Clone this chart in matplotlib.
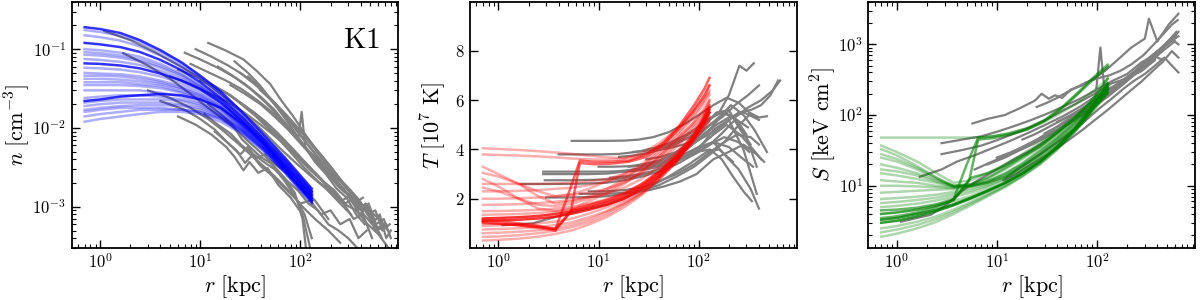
import numpy as np
import matplotlib
matplotlib.use("Agg")
import matplotlib.pyplot as plt
from matplotlib.ticker import LogLocator, FuncFormatter, NullFormatter, FixedLocator, NullLocator

plt.rcParams['mathtext.fontset'] = 'cm'
plt.rcParams['font.family'] = ['DejaVu Serif']

# ---------------- Panel 1: density n [cm^-3] ----------------
n_mod_r = [0.7, 1.0, 1.6, 2.5, 4, 6.5, 10, 16, 26, 42, 70, 130]
n_mod_v = [
    [0.19, 0.18, 0.16, 0.13, 0.097, 0.068, 0.046, 0.029, 0.016, 0.0085, 0.0042, 0.0017],
    [0.175, 0.165, 0.148, 0.122, 0.092, 0.065, 0.044, 0.027, 0.015, 0.0080, 0.0040, 0.0016],
    [0.15, 0.142, 0.128, 0.108, 0.083, 0.060, 0.041, 0.026, 0.0145, 0.0078, 0.0039, 0.0016],
    [0.12, 0.115, 0.106, 0.092, 0.073, 0.054, 0.038, 0.024, 0.0138, 0.0075, 0.0038, 0.00155],
    [0.10, 0.097, 0.090, 0.080, 0.065, 0.049, 0.035, 0.023, 0.013, 0.0072, 0.0036, 0.0015],
    [0.092, 0.089, 0.083, 0.074, 0.061, 0.047, 0.034, 0.0225, 0.0128, 0.0071, 0.0035, 0.00148],
    [0.085, 0.083, 0.078, 0.070, 0.058, 0.045, 0.033, 0.022, 0.0127, 0.0070, 0.0035, 0.00145],
    [0.075, 0.073, 0.069, 0.063, 0.053, 0.042, 0.032, 0.0215, 0.0124, 0.0069, 0.0034, 0.00142],
    [0.066, 0.065, 0.062, 0.057, 0.049, 0.040, 0.031, 0.021, 0.0122, 0.0068, 0.0034, 0.0014],
    [0.058, 0.057, 0.055, 0.051, 0.045, 0.037, 0.029, 0.020, 0.0118, 0.0066, 0.0033, 0.00138],
    [0.05, 0.049, 0.048, 0.045, 0.040, 0.034, 0.027, 0.019, 0.0113, 0.0064, 0.0032, 0.00135],
    [0.046, 0.046, 0.045, 0.042, 0.038, 0.032, 0.026, 0.0185, 0.011, 0.0063, 0.0031, 0.00132],
    [0.042, 0.042, 0.041, 0.039, 0.036, 0.031, 0.025, 0.018, 0.0108, 0.0062, 0.0031, 0.0013],
    [0.038, 0.038, 0.038, 0.036, 0.034, 0.029, 0.024, 0.0175, 0.0106, 0.0061, 0.0030, 0.00129],
    [0.035, 0.035, 0.035, 0.034, 0.032, 0.028, 0.023, 0.017, 0.0104, 0.0060, 0.0030, 0.00128],
    [0.030, 0.030, 0.030, 0.030, 0.028, 0.025, 0.021, 0.016, 0.0100, 0.0058, 0.0029, 0.00125],
    [0.022, 0.023, 0.025, 0.026, 0.027, 0.026, 0.023, 0.018, 0.0115, 0.0065, 0.0031, 0.0012],
    [0.024, 0.025, 0.026, 0.026, 0.025, 0.023, 0.020, 0.015, 0.0098, 0.0058, 0.0030, 0.0012],
    [0.021, 0.022, 0.023, 0.023, 0.023, 0.022, 0.019, 0.0145, 0.0096, 0.0057, 0.0029, 0.0012],
    [0.019, 0.020, 0.021, 0.021, 0.021, 0.020, 0.018, 0.014, 0.0094, 0.0056, 0.0029, 0.00118],
    [0.017, 0.018, 0.019, 0.0195, 0.0195, 0.019, 0.017, 0.0135, 0.0092, 0.0055, 0.0028, 0.00116],
    [0.016, 0.017, 0.018, 0.018, 0.018, 0.017, 0.016, 0.013, 0.0090, 0.0054, 0.0028, 0.00115],
    [0.014, 0.015, 0.016, 0.017, 0.017, 0.017, 0.016, 0.013, 0.0088, 0.0053, 0.0027, 0.00112],
    [0.012, 0.013, 0.014, 0.015, 0.016, 0.016, 0.015, 0.012, 0.0085, 0.0052, 0.0027, 0.0011],
]
n_mod_dark = [0, 3, 8, 16]

n_obs_r = [
    [1.1, 2.0, 3.5, 6, 10, 16, 25, 40, 60, 90, 130, 180, 250, 320],
    [1.7, 3, 5, 8, 12, 20, 30, 45, 70, 100, 140, 190],
    [12, 18, 27, 36, 50, 65, 85, 110, 150, 200, 260, 340, 430],
    [7, 10, 15, 22, 32, 45, 65, 90, 120, 160, 210, 270, 340, 420],
    [8, 12, 18, 26, 38, 55, 80, 110, 150, 190, 240, 300, 370, 450, 540],
    [5, 8, 12, 18, 27, 40, 60, 85, 120, 160, 210, 260, 320, 390, 470, 560, 650],
    [6, 9, 13, 18, 22, 27, 31, 38, 47, 60, 80, 105, 125],
    [4, 7, 10, 14, 19, 25, 30, 36, 44, 55, 70, 90, 110, 130],
    [10, 14, 20, 28, 38, 50, 70, 95, 130, 170, 220, 280, 350, 430, 520, 620, 720, 800],
    [15, 20, 28, 40, 55, 75, 95, 103, 112, 130, 170, 220, 290, 370, 460, 560, 680],
    [3, 5, 8, 12, 17, 24, 33, 45, 60, 80, 105, 140, 190, 250],
    [9, 13, 19, 27, 37, 50, 68, 90, 120, 160, 210, 280, 370, 480, 620, 750],
    [20, 28, 40, 55, 75, 100, 135, 180, 240, 320, 420, 540, 680],
    [12, 16, 21, 26, 32, 40, 52, 68, 88, 105, 118],
    [25, 35, 50, 70, 100, 130, 170, 220, 280, 360, 460, 580, 720],
    [6, 9, 14, 20, 27, 36, 48, 65, 85, 110, 150, 200, 270, 360, 470, 600, 760],
    [14, 18, 23, 28, 33, 40, 50, 62, 78, 100, 125, 160, 200, 250, 310, 380, 460],
    [30, 40, 52, 68, 90, 115, 145, 180, 220, 270, 330, 400, 480, 570, 680, 800],
    [18, 25, 34, 45, 60, 80, 105, 135, 170, 215, 270, 340, 420, 520],
    [22, 30, 40, 52, 68, 88, 110, 140, 180, 230, 290, 360, 440],
    [11, 15, 20, 26, 33, 42, 55, 72, 95, 120, 150, 190, 240, 300, 370],
    [40, 55, 75, 100, 130, 165, 210, 260, 320, 390, 470, 560, 660, 780],
]
n_obs_v = [
    [0.17, 0.13, 0.092, 0.063, 0.043, 0.027, 0.017, 0.0098, 0.0058, 0.0036, 0.0024, 0.0017, 0.0011, 0.0008],
    [0.089, 0.062, 0.042, 0.027, 0.018, 0.011, 0.0068, 0.0043, 0.0028, 0.0018, 0.0012, 0.0007],
    [0.12, 0.096, 0.074, 0.054, 0.036, 0.022, 0.014, 0.0085, 0.005, 0.0032, 0.0021, 0.0014, 0.0010],
    [0.09, 0.074, 0.058, 0.044, 0.031, 0.021, 0.013, 0.0082, 0.0052, 0.0036, 0.0022, 0.0017, 0.0011, 0.0013],
    [0.065, 0.051, 0.04, 0.031, 0.022, 0.015, 0.0092, 0.0058, 0.0036, 0.0026, 0.0018, 0.0014, 0.0009, 0.0011, 0.0006],
    [0.045, 0.036, 0.028, 0.022, 0.016, 0.011, 0.0073, 0.0048, 0.0031, 0.0022, 0.0016, 0.0012, 0.0014, 0.0008, 0.001, 0.0006, 0.0004],
    [0.014, 0.011, 0.0082, 0.0058, 0.0043, 0.0029, 0.0037, 0.0027, 0.0031, 0.0019, 0.0013, 0.0008, 0.0003],
    [0.022, 0.017, 0.013, 0.0095, 0.0064, 0.0046, 0.0058, 0.0041, 0.0046, 0.0031, 0.0021, 0.0013, 0.0008, 0.0004],
    [0.04, 0.033, 0.026, 0.019, 0.014, 0.0098, 0.0066, 0.0045, 0.003, 0.0021, 0.0016, 0.0011, 0.0013, 0.0008, 0.0006, 0.0008, 0.0004, 0.0005],
    [0.06, 0.048, 0.036, 0.025, 0.017, 0.0105, 0.0072, 0.016, 0.0056, 0.0045, 0.003, 0.0021, 0.0015, 0.001, 0.0009, 0.0005, 0.0006],
    [0.03, 0.024, 0.018, 0.013, 0.0092, 0.0063, 0.0044, 0.0031, 0.0022, 0.0015, 0.001, 0.0007, 0.0005, 0.00035],
    [0.1, 0.08, 0.062, 0.047, 0.034, 0.023, 0.015, 0.0095, 0.006, 0.0039, 0.0026, 0.0018, 0.0012, 0.0009, 0.0007, 0.0005],
    [0.035, 0.027, 0.02, 0.014, 0.0096, 0.0064, 0.0042, 0.0029, 0.002, 0.0013, 0.001, 0.0006, 0.0005],
    [0.02, 0.015, 0.011, 0.0072, 0.0056, 0.0043, 0.0035, 0.0024, 0.0015, 0.0007, 0.0002],
    [0.05, 0.036, 0.024, 0.015, 0.0092, 0.006, 0.0039, 0.0026, 0.0018, 0.0012, 0.0009, 0.0005, 0.0006],
    [0.055, 0.045, 0.034, 0.026, 0.019, 0.014, 0.0098, 0.0066, 0.0045, 0.0031, 0.0021, 0.0016, 0.0011, 0.0009, 0.0006, 0.00045, 0.0003],
    [0.009, 0.0068, 0.0052, 0.0036, 0.0045, 0.0033, 0.0026, 0.002, 0.0015, 0.0011, 0.0012, 0.0008, 0.0009, 0.0006, 0.0007, 0.0004, 0.0005],
    [0.045, 0.032, 0.022, 0.015, 0.0098, 0.0065, 0.0044, 0.003, 0.0023, 0.0016, 0.0013, 0.0009, 0.0011, 0.0006, 0.0007, 0.0004],
    [0.028, 0.021, 0.016, 0.012, 0.0085, 0.0058, 0.004, 0.0028, 0.0021, 0.0014, 0.0011, 0.0007, 0.0008, 0.0004],
    [0.07, 0.05, 0.034, 0.022, 0.014, 0.0088, 0.0058, 0.0037, 0.0026, 0.0017, 0.0013, 0.0008, 0.0006],
    [0.015, 0.011, 0.0085, 0.006, 0.0048, 0.0038, 0.003, 0.0022, 0.0016, 0.0011, 0.0009, 0.0006, 0.0005, 0.0004, 0.0003],
    [0.03, 0.021, 0.014, 0.0092, 0.0062, 0.0044, 0.003, 0.0021, 0.0016, 0.0012, 0.0008, 0.0009, 0.0005, 0.0006],
]

# ---------------- Panel 2: temperature T [1e7 K] ----------------
T_mod_r = [0.7, 1.0, 1.6, 2.5, 3.7, 5.5, 8, 12, 18, 27, 40, 60, 85, 110, 128]
T_mod_v = [
    [4.05, 4.02, 3.98, 3.93, 3.88, 3.82, 3.75, 3.68, 3.65, 3.75, 4.1, 4.7, 5.4, 6.0, 6.3],
    [3.8, 3.78, 3.75, 3.72, 3.68, 3.63, 3.6, 3.58, 3.62, 3.85, 4.25, 4.8, 5.5, 6.2, 6.6],
    [3.3, 3.0, 2.6, 2.1, 1.8, 1.9, 2.1, 2.4, 2.8, 3.3, 3.9, 4.5, 5.2, 5.8, 6.2],
    [3.05, 2.9, 2.6, 2.3, 2.1, 2.2, 2.4, 2.7, 3.0, 3.4, 4.0, 4.6, 5.3, 5.9, 6.4],
    [2.8, 2.5, 2.0, 1.6, 1.5, 1.6, 1.9, 2.2, 2.6, 3.1, 3.7, 4.4, 5.0, 5.6, 6.0],
    [2.6, 2.6, 2.6, 2.6, 2.62, 2.65, 2.7, 2.8, 3.0, 3.3, 3.8, 4.4, 5.0, 5.5, 5.9],
    [2.45, 2.3, 2.0, 1.75, 1.7, 1.8, 2.0, 2.3, 2.7, 3.1, 3.7, 4.3, 4.9, 5.4, 5.8],
    [2.3, 2.3, 2.32, 2.35, 2.4, 2.45, 2.55, 2.7, 2.9, 3.2, 3.6, 4.2, 4.8, 5.3, 5.7],
    [2.0, 2.0, 2.02, 2.05, 2.1, 2.15, 2.25, 2.4, 2.65, 3.0, 3.5, 4.1, 4.7, 5.2, 5.5],
    [1.75, 1.76, 1.78, 1.82, 1.88, 1.95, 2.05, 2.2, 2.45, 2.8, 3.3, 3.9, 4.5, 5.0, 5.3],
    [1.5, 1.5, 1.52, 1.55, 1.6, 1.68, 1.8, 1.98, 2.25, 2.6, 3.1, 3.7, 4.3, 4.8, 5.1],
    [1.35, 1.36, 1.38, 1.42, 1.48, 1.58, 1.72, 1.9, 2.18, 2.55, 3.05, 3.7, 4.35, 4.95, 5.35],
    [1.2, 1.22, 1.25, 1.3, 1.38, 1.5, 1.65, 1.85, 2.1, 2.5, 3.0, 3.7, 4.4, 5.1, 5.6],
    [1.1, 1.12, 1.15, 1.2, 1.27, 1.4, 1.55, 1.75, 2.0, 2.4, 2.9, 3.6, 4.3, 5.0, 5.5],
    [0.9, 0.92, 0.95, 1.0, 1.07, 1.2, 1.4, 1.65, 1.95, 2.35, 2.9, 3.5, 4.2, 4.8, 5.2],
    [0.75, 0.77, 0.8, 0.85, 0.93, 1.05, 1.25, 1.5, 1.85, 2.25, 2.8, 3.5, 4.3, 5.0, 5.5],
    [0.6, 0.62, 0.66, 0.72, 0.8, 0.95, 1.15, 1.45, 1.8, 2.25, 2.85, 3.6, 4.4, 5.2, 5.8],
    [0.45, 0.47, 0.52, 0.6, 0.7, 0.85, 1.05, 1.35, 1.75, 2.2, 2.8, 3.5, 4.3, 5.1, 5.7],
    [0.3, 0.33, 0.38, 0.46, 0.57, 0.72, 0.95, 1.25, 1.65, 2.15, 2.75, 3.5, 4.4, 5.3, 6.0],
]
T_mod_dark = [12, 13]
T_jump_r = [
    [0.7, 1.0, 1.6, 2.5, 3.7, 5.0, 6.5, 9, 13, 20, 30, 45, 65, 90, 115, 128],
    [0.7, 1.0, 1.6, 2.5, 3.7, 5.3, 6.5, 9, 13, 20, 30, 45, 65, 90, 115, 128],
    [0.7, 1.0, 1.6, 2.5, 3.7, 5.5, 8, 12, 18, 27, 40, 60, 85, 110, 128],
]
T_jump_v = [
    [1.15, 1.1, 1.0, 0.9, 0.75, 2.2, 3.55, 3.5, 3.5, 3.55, 3.8, 4.3, 5.0, 5.8, 6.5, 6.9],
    [1.05, 1.0, 0.92, 0.82, 0.7, 1.5, 3.45, 3.4, 3.42, 3.5, 3.7, 4.2, 4.9, 5.6, 6.2, 6.6],
    [1.0, 0.98, 0.93, 0.86, 0.78, 1.55, 1.75, 1.95, 2.2, 2.6, 3.1, 3.8, 4.5, 5.2, 5.7],
]

T_obs_r = [
    [1.1, 2.2, 4, 7, 12, 20, 30, 50, 80, 120, 160, 220],
    [1.7, 3, 5, 8, 12, 18, 27, 40, 60, 90, 130, 180, 250, 320],
    [2.8, 5, 8, 12, 16, 24, 35, 50, 75, 110, 150, 200, 280, 380],
    [2.8, 5, 8, 12, 18, 27, 40, 60, 90, 130, 180, 240, 300],
    [2.9, 5, 9, 15, 22, 32, 45, 65, 95, 140, 200, 280, 350],
    [3.0, 5, 8, 12, 18, 27, 40, 60, 90, 130, 180, 240, 330, 400],
    [5.4, 8, 12, 18, 25, 35, 50, 70, 100, 140, 190, 250, 320, 400, 480],
    [4, 7, 11, 16, 24, 35, 50, 75, 110, 160, 200, 255, 300, 355],
    [16, 22, 30, 42, 60, 85, 120, 170, 230, 310, 420, 550, 650],
    [20, 28, 40, 55, 75, 100, 140, 190, 250, 330, 400],
    [25, 35, 50, 70, 95, 130, 170, 220, 280, 340],
    [13, 18, 26, 37, 52, 72, 100, 140, 190, 260, 350, 420],
    [30, 42, 60, 85, 120, 160, 210, 280, 360, 480],
    [8, 12, 18, 27, 40, 60, 90, 130, 180, 240, 320, 400],
    [35, 50, 70, 100, 140, 190, 250, 330, 420, 520, 620],
    [6.5, 10, 15, 22, 32, 45, 65, 95, 140, 200, 280, 380, 450],
    [18, 25, 35, 50, 70, 100, 140, 200, 280, 380],
    [40, 60, 85, 120, 170, 230, 310, 400],
    [10, 14, 20, 28, 40, 55, 75, 100, 135, 180, 240, 310],
    [22, 30, 42, 58, 80, 110, 150, 200, 260, 330],
    [50, 70, 95, 130, 175, 230, 300, 380],
]
T_obs_v = [
    [0.93, 1.0, 1.3, 1.55, 1.75, 2.1, 2.4, 2.9, 3.4, 3.9, 4.0, 3.5],
    [2.6, 2.6, 2.6, 2.62, 2.65, 2.75, 2.9, 3.1, 3.4, 3.8, 4.2, 4.5, 4.3, 3.9],
    [3.1, 3.1, 3.1, 3.1, 3.12, 3.2, 3.35, 3.6, 4.0, 4.6, 5.0, 5.3, 5.5, 5.3],
    [3.0, 3.0, 3.0, 3.02, 3.1, 3.25, 3.5, 3.9, 4.4, 5.0, 5.5, 5.2, 4.6],
    [2.75, 2.75, 2.77, 2.8, 2.9, 3.05, 3.3, 3.6, 4.0, 4.3, 4.1, 3.6, 3.3],
    [2.05, 2.05, 2.07, 2.1, 2.2, 2.35, 2.55, 2.9, 3.3, 3.8, 4.3, 4.6, 4.5, 4.2],
    [4.35, 4.35, 4.35, 4.36, 4.4, 4.5, 4.7, 5.0, 5.4, 5.8, 6.1, 5.9, 5.5, 5.3, 5.35],
    [3.8, 3.8, 3.8, 3.82, 3.9, 4.05, 4.25, 4.6, 5.0, 5.5, 6.2, 7.4, 7.2, 7.5],
    [3.7, 3.75, 3.85, 4.0, 4.3, 4.7, 5.2, 5.5, 5.3, 5.7, 6.0, 6.4, 6.8],
    [3.3, 3.35, 3.45, 3.6, 3.85, 4.1, 4.3, 3.7, 3.2, 2.4, 1.6],
    [3.2, 3.3, 3.5, 3.7, 3.9, 4.0, 3.6, 2.9, 2.3, 1.9],
    [2.85, 2.9, 3.0, 3.15, 3.4, 3.7, 4.1, 4.6, 5.0, 4.6, 4.0, 3.6],
    [3.6, 3.7, 3.9, 4.2, 4.6, 5.3, 5.8, 5.4, 4.8, 3.9],
    [2.3, 2.3, 2.35, 2.45, 2.7, 3.0, 3.4, 3.9, 4.3, 4.9, 5.4, 5.2],
    [3.95, 4.05, 4.2, 4.4, 4.7, 5.1, 5.5, 5.6, 5.8, 6.2, 6.8],
    [2.2, 2.2, 2.22, 2.27, 2.35, 2.5, 2.7, 3.0, 3.6, 3.9, 4.2, 3.8, 3.5],
    [3.1, 3.15, 3.25, 3.4, 3.65, 4.0, 4.8, 5.2, 4.0, 2.2],
    [4.1, 4.3, 4.5, 4.9, 5.3, 5.8, 6.2, 6.6],
    [3.3, 3.3, 3.32, 3.4, 3.55, 3.75, 4.0, 4.4, 4.9, 5.5, 5.2, 4.9],
    [3.9, 3.95, 4.05, 4.2, 4.5, 4.9, 5.5, 5.6, 4.8, 4.2],
    [3.5, 3.65, 3.85, 4.2, 4.7, 5.2, 4.5, 3.3],
]

# ---------------- Panel 3: entropy S [keV cm^2] ----------------
S_mod_r = [0.7, 1.0, 1.6, 2.5, 3.7, 5.5, 8, 12, 18, 27, 40, 60, 85, 110, 128]
S_mod_v = [
    [48, 48, 48, 48, 48, 48, 49, 52, 60, 75, 100, 140, 200, 270, 320],
    [37, 30, 22, 15, 11, 12, 15, 20, 28, 40, 60, 95, 150, 220, 280],
    [33, 27, 19, 13, 9.5, 10.5, 13, 18, 26, 38, 58, 92, 145, 210, 270],
    [28, 24, 18, 13, 10, 10.5, 12.8, 17.5, 25, 36, 56, 90, 142, 205, 260],
    [25, 22, 17, 12.5, 10, 10.5, 12.5, 17, 24, 35, 55, 88, 140, 200, 250],
    [20, 18, 15, 12, 10, 10, 11.5, 15, 21, 32, 50, 82, 130, 190, 240],
    [17, 16, 14, 11.5, 9.8, 10, 11.5, 14.8, 20.5, 31, 48, 80, 128, 188, 238],
    [15, 14, 12.5, 11, 9.8, 10, 11.5, 14.5, 20, 30, 47, 78, 125, 185, 235],
    [12, 11.5, 11, 10, 9.5, 10, 11, 13.5, 19, 28, 45, 75, 122, 180, 230],
    [10, 10, 9.8, 9.5, 9.3, 9.8, 11, 13.5, 19, 28, 44, 72, 118, 175, 225],
    [8, 8.2, 8.5, 8.8, 9, 9.8, 11, 13.5, 18.5, 27, 42, 70, 115, 170, 215],
    [6.5, 6.7, 7, 7.5, 8.2, 9.2, 10.5, 13, 18, 26, 40, 66, 110, 165, 210],
    [5.7, 5.9, 6.3, 6.8, 7.6, 8.6, 10, 12.5, 17, 25, 38, 64, 108, 162, 208],
    [5, 5.2, 5.6, 6.2, 7, 8, 9.5, 12, 16.5, 24, 37, 62, 105, 160, 205],
    [4, 4.2, 4.6, 5.3, 6.1, 7.2, 8.8, 11, 15, 22, 34, 58, 100, 155, 200],
    [3.3, 3.5, 4, 4.6, 5.5, 6.8, 8.5, 11, 15, 22, 35, 62, 110, 180, 240],
    [3.0, 3.2, 3.7, 4.4, 5.3, 6.6, 8.3, 10.8, 15, 22, 36, 65, 120, 200, 280],
    [2.5, 2.7, 3.1, 3.7, 4.6, 5.9, 7.6, 10, 14, 21, 34, 60, 110, 190, 260],
    [2.2, 2.4, 2.8, 3.4, 4.3, 5.6, 7.3, 9.8, 13.8, 20.5, 33, 59, 108, 185, 255],
    [1.9, 2.1, 2.5, 3.1, 4, 5.3, 7, 9.5, 13.5, 20, 32, 58, 105, 180, 250],
]
S_mod_dark = [15, 16]
S_jump_r = [
    [0.7, 1.0, 1.6, 2.5, 3.7, 5.0, 6.5, 9, 13, 20, 30, 45, 65, 90, 115, 128],
    [0.7, 1.0, 1.6, 2.5, 3.7, 5.3, 6.5, 9, 13, 20, 30, 45, 65, 90, 115, 128],
    [0.7, 1.0, 1.6, 2.5, 3.7, 5.5, 8, 12, 18, 27, 40, 60, 85, 110, 128],
]
S_jump_v = [
    [4.5, 4.6, 4.9, 5.5, 6.5, 20, 48, 50, 55, 65, 85, 130, 210, 330, 450, 515],
    [4.0, 4.2, 4.6, 5.2, 6.2, 12, 45, 47, 52, 62, 82, 125, 200, 310, 420, 480],
    [3.5, 3.7, 4.2, 5, 6.4, 13, 15, 19, 26, 36, 55, 90, 150, 240, 330],
]

S_obs_r = [
    [1.1, 2.2, 3.2, 4.5, 6.5, 10, 15, 22, 32, 45, 65, 95, 140, 200, 280, 380],
    [1.7, 2.8, 4, 6, 9, 13, 20, 30, 45, 70, 100, 150, 220, 320, 450, 600],
    [2.8, 4.5, 7, 10, 15, 22, 32, 45, 65, 95, 140, 200, 280, 380, 500, 620],
    [2.8, 4.5, 7, 10, 15, 22, 32, 45, 65, 95, 140, 200, 280, 380],
    [5.7, 8, 12, 17, 24, 28, 33, 38, 45, 55, 70, 90, 120, 160, 220, 300, 330, 400, 520, 650],
    [11.6, 15, 20, 27, 36, 48, 65, 85, 110, 140, 180, 230, 300, 380, 470, 560, 650],
    [6, 9, 13, 18, 25, 35, 48, 65, 90, 120, 160, 210, 280, 360, 450],
    [10, 14, 20, 28, 40, 55, 75, 100, 135, 180, 240, 320, 420, 540, 650],
    [15, 20, 28, 38, 52, 70, 95, 108, 120, 150, 200, 260, 340, 440, 560],
    [20, 28, 38, 52, 70, 95, 130, 175, 230, 300, 380, 480, 600],
    [8, 12, 17, 24, 33, 45, 60, 80, 105, 140, 185, 240, 310, 400],
    [30, 40, 55, 75, 100, 140, 190, 250, 330, 430, 550, 650],
    [25, 32, 40, 50, 62, 78, 100, 130, 170, 220, 290, 370, 460, 560, 640],
    [12, 16, 22, 30, 40, 54, 72, 95, 125, 165, 215, 280, 360, 450, 560, 650],
    [18, 25, 33, 44, 58, 76, 100, 130, 170, 220, 290, 380, 490, 620],
    [40, 55, 75, 100, 135, 180, 240, 320, 420, 550, 650],
]
S_obs_v = [
    [3.1, 3.9, 5.5, 8.5, 12, 17, 24, 32, 45, 65, 95, 140, 210, 330, 420, 600],
    [13.4, 17, 22, 27, 34, 42, 55, 72, 95, 135, 190, 260, 380, 520, 800, 1100],
    [40, 45, 50, 58, 70, 85, 105, 130, 165, 220, 300, 380, 560, 700, 1000, 1300],
    [28, 32, 37, 44, 55, 68, 88, 115, 150, 200, 280, 330, 480, 650],
    [76, 88, 100, 125, 160, 200, 170, 190, 175, 230, 260, 320, 420, 600, 900, 1200, 2300, 1100, 1900, 2700],
    [12, 16, 21, 28, 37, 50, 68, 95, 130, 170, 230, 300, 380, 500, 650, 500, 400],
    [17, 22, 28, 35, 45, 60, 82, 110, 150, 200, 270, 360, 500, 700, 600],
    [25, 30, 38, 48, 62, 82, 110, 150, 200, 270, 380, 550, 800, 1100, 1500],
    [30, 36, 45, 58, 75, 100, 140, 900, 200, 250, 320, 430, 600, 850, 1200],
    [38, 46, 58, 75, 100, 135, 185, 260, 360, 500, 700, 1000, 1400],
    [20, 25, 32, 40, 52, 68, 90, 120, 160, 220, 300, 420, 600, 800],
    [55, 68, 88, 115, 150, 210, 300, 420, 600, 850, 1100, 1300],
    [130, 150, 175, 210, 245, 290, 330, 360, 420, 520, 700, 1000, 1400, 1900, 2200],
    [12, 15, 20, 26, 34, 46, 62, 85, 115, 160, 220, 300, 420, 560, 800, 650],
    [45, 55, 68, 84, 104, 130, 165, 210, 270, 360, 500, 700, 1000, 1500],
    [80, 100, 130, 170, 220, 300, 420, 600, 850, 1200, 1000],
]

panel_text = "K1"

# ---------------- Figure ----------------
fig = plt.figure(figsize=(12, 3), dpi=100)
W, H = 1200.0, 300.0
ax_w = 326.6 / W
ax_b = 1 - 248.0 / H
ax_h = (248.0 - 1.7) / H
lefts = [71.7 / W, 470.0 / W, 868.3 / W]
axes = [fig.add_axes([l, ax_b, ax_w, ax_h]) for l in lefts]

grey = '#808080'
lw_obs = 1.6
lw_mod = 1.8
a_light = 0.32
a_dark = 0.8


def log_fmt(v, pos):
    e = int(round(np.log10(v)))
    return r'$10^{%d}$' % e


def style_axis(ax, ylog=True):
    ax.set_xscale('log')
    ax.set_xlim(0.52, 950)
    ax.xaxis.set_major_locator(LogLocator(base=10, numticks=10))
    ax.xaxis.set_minor_locator(LogLocator(base=10, subs=np.arange(2, 10), numticks=50))
    ax.xaxis.set_major_formatter(FuncFormatter(log_fmt))
    ax.xaxis.set_minor_formatter(NullFormatter())
    if ylog:
        ax.set_yscale('log')
        ax.yaxis.set_major_locator(LogLocator(base=10, numticks=10))
        ax.yaxis.set_minor_locator(LogLocator(base=10, subs=np.arange(2, 10), numticks=50))
        ax.yaxis.set_major_formatter(FuncFormatter(log_fmt))
        ax.yaxis.set_minor_formatter(NullFormatter())
    ax.tick_params(which='both', direction='in', top=True, right=True, labelsize=12, pad=4)
    ax.tick_params(which='major', length=6, width=1.0)
    ax.tick_params(which='minor', length=3, width=0.8)
    for s in ax.spines.values():
        s.set_linewidth(1.3)
    ax.set_xlabel(r'$r\ [\mathrm{kpc}]$', fontsize=16, labelpad=1)


# Panel 1
ax = axes[0]
for r, v in zip(n_obs_r, n_obs_v):
    ax.plot(r, v, color=grey, lw=lw_obs, zorder=1)
for i, v in enumerate(n_mod_v):
    a = a_dark if i in n_mod_dark else a_light
    ax.plot(n_mod_r, v, color='blue', lw=lw_mod, alpha=a, zorder=2)
style_axis(ax)
ax.set_ylim(3e-4, 0.4)
ax.set_ylabel(r'$n\ [\mathrm{cm}^{-3}]$', fontsize=16, labelpad=0)
ax.text(0.945, 0.845, r'$\mathrm{%s}$' % panel_text, transform=ax.transAxes,
        ha='right', va='center', fontsize=21)

# Panel 2
ax = axes[1]
for r, v in zip(T_obs_r, T_obs_v):
    ax.plot(r, v, color=grey, lw=lw_obs, zorder=1)
for i, v in enumerate(T_mod_v):
    a = a_dark if i in T_mod_dark else a_light
    ax.plot(T_mod_r, v, color='red', lw=lw_mod, alpha=a, zorder=2)
for r, v in zip(T_jump_r, T_jump_v):
    ax.plot(r, v, color='red', lw=lw_mod, alpha=0.6, zorder=2)
style_axis(ax, ylog=False)
ax.set_ylim(0, 10)
ax.yaxis.set_major_locator(FixedLocator([2, 4, 6, 8]))
ax.yaxis.set_major_formatter(FuncFormatter(lambda v, p: r'$%d$' % v))
ax.yaxis.set_minor_locator(NullLocator())
ax.set_ylabel(r'$T\ [10^7\ \mathrm{K}]$', fontsize=16, labelpad=5)

# Panel 3
ax = axes[2]
for r, v in zip(S_obs_r, S_obs_v):
    ax.plot(r, v, color=grey, lw=lw_obs, zorder=1)
for i, v in enumerate(S_mod_v):
    a = a_dark if i in S_mod_dark else a_light
    ax.plot(S_mod_r, v, color='green', lw=lw_mod, alpha=a, zorder=2)
for r, v in zip(S_jump_r, S_jump_v):
    ax.plot(r, v, color='green', lw=lw_mod, alpha=0.6, zorder=2)
style_axis(ax)
ax.set_ylim(1.32, 4000)
ax.set_ylabel(r'$S\ [\mathrm{keV\ cm}^2]$', fontsize=16, labelpad=0)

fig.savefig('out.png', dpi=100)
